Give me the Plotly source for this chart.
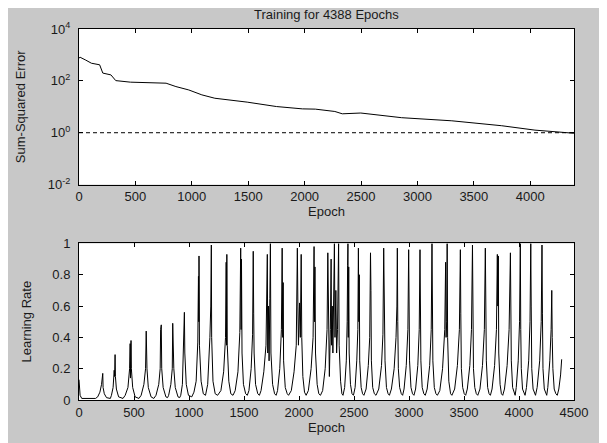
import plotly.graph_objects as go

# ---- Data ----
sse_epoch = [0, 10, 60, 110, 183, 211, 283, 326, 456, 772, 859, 973, 1089, 1204, 1491,
             1750, 1980, 2095, 2268, 2334, 2498, 2860, 3305, 3747, 4042, 4336, 4388]
sse_log10 = [2.88, 2.91, 2.80, 2.68, 2.62, 2.30, 2.23, 2.01, 1.95, 1.91, 1.78, 1.65, 1.46, 1.33, 1.18,
             1.01, 0.92, 0.91, 0.82, 0.73, 0.76, 0.58, 0.46, 0.27, 0.10, 0.00, -0.02]
sse_value = [10 ** v for v in sse_log10]

goal_epoch = [0, 4388]
goal_value = [1.0, 1.0]

lr_epoch = [
    0, 4, 10, 25, 150,
    170, 190, 205, 213, 216, 219, 230, 250, 285,
    295, 310, 320, 324, 328, 331, 340, 360, 400,
    420, 445, 460, 465, 468, 473, 476, 488, 510, 545,
    565, 590, 605, 611, 614, 618, 630, 655, 680,
    700, 725, 738, 742, 745, 748, 752, 765, 790, 805,
    815, 835, 848, 852, 855, 858, 862, 875, 900, 915,
    925, 940, 952, 958, 962, 975, 995, 1025,
    1045, 1065, 1080, 1086, 1089, 1091, 1095, 1110, 1130, 1150,
    1170, 1190, 1198, 1203, 1206, 1218, 1238, 1260,
    1290, 1315, 1332, 1338, 1341, 1344, 1348, 1362, 1380, 1400,
    1420, 1445, 1462, 1470, 1474, 1477, 1482, 1495, 1515, 1530,
    1545, 1565, 1578, 1584, 1588, 1592, 1605, 1625, 1640,
    1655, 1680, 1700, 1712, 1716, 1722, 1728, 1735, 1740, 1745, 1760, 1778, 1792,
    1805, 1825, 1840, 1847, 1852, 1856, 1860, 1875, 1893, 1905,
    1930, 1955, 1975, 1985, 1990, 1995, 2005, 2012, 2020, 2025, 2035, 2050, 2065,
    2085, 2110, 2128, 2137, 2141, 2145, 2150, 2165, 2180, 2195,
    2215, 2238, 2255, 2262, 2268, 2276, 2285, 2292, 2296, 2302, 2308, 2315, 2322, 2327,
    2335, 2342, 2350, 2360, 2365, 2378, 2390, 2400,
    2415, 2430, 2438, 2442, 2445, 2448, 2452, 2456, 2468, 2482, 2495,
    2510, 2525, 2535, 2540, 2544, 2548, 2552, 2565, 2578, 2590,
    2610, 2630, 2643, 2650, 2654, 2658, 2670, 2685, 2700,
    2725, 2750, 2763, 2770, 2774, 2778, 2782, 2795, 2810, 2822,
    2840, 2865, 2882, 2890, 2894, 2898, 2903, 2915, 2930, 2942,
    2955, 2975, 2990, 2997, 3001, 3005, 3018, 3032, 3045,
    3060, 3080, 3093, 3100, 3104, 3108, 3120, 3135, 3148,
    3165, 3188, 3202, 3209, 3213, 3217, 3230, 3245, 3258,
    3280, 3305, 3325, 3333, 3337, 3343, 3347, 3351, 3362, 3378, 3390,
    3415, 3440, 3458, 3467, 3471, 3476, 3488, 3502, 3515,
    3530, 3553, 3568, 3577, 3581, 3586, 3598, 3612, 3625,
    3645, 3668, 3685, 3694, 3698, 3703, 3715, 3728, 3740,
    3755, 3778, 3795, 3803, 3807, 3812, 3816, 3828, 3840, 3852,
    3868, 3892, 3910, 3922, 3926, 3930, 3942, 3955, 3965,
    3975, 3993, 4005, 4012, 4016, 4021, 4032, 4045, 4055,
    4068, 4088, 4100, 4107, 4111, 4116, 4128, 4140, 4150,
    4165, 4188, 4202, 4209, 4213, 4218, 4230, 4243, 4252,
    4262, 4280, 4292, 4298, 4302, 4308, 4320, 4335, 4348,
    4362, 4378, 4388,
]
lr_value = [
    0.13, 0.07, 0.03, 0.01, 0.01,
    0.02, 0.05, 0.10, 0.14, 0.17, 0.08, 0.04, 0.015, 0.01,
    0.03, 0.08, 0.19, 0.15, 0.29, 0.15, 0.07, 0.02, 0.01,
    0.03, 0.08, 0.20, 0.36, 0.14, 0.38, 0.20, 0.08, 0.02, 0.01,
    0.03, 0.10, 0.20, 0.44, 0.37, 0.20, 0.08, 0.02, 0.01,
    0.03, 0.10, 0.20, 0.45, 0.30, 0.48, 0.20, 0.08, 0.02, 0.015,
    0.03, 0.10, 0.20, 0.49, 0.30, 0.49, 0.20, 0.08, 0.02, 0.015,
    0.03, 0.10, 0.35, 0.56, 0.30, 0.10, 0.03, 0.02,
    0.05, 0.12, 0.37, 0.79, 0.50, 0.92, 0.35, 0.12, 0.04, 0.03,
    0.10, 0.40, 0.60, 0.99, 0.40, 0.12, 0.04, 0.03,
    0.06, 0.18, 0.40, 0.88, 0.35, 0.93, 0.35, 0.12, 0.04, 0.03,
    0.06, 0.18, 0.43, 0.97, 0.45, 0.90, 0.30, 0.10, 0.04, 0.03,
    0.06, 0.20, 0.42, 0.95, 0.55, 0.30, 0.10, 0.04, 0.03,
    0.06, 0.18, 0.35, 0.93, 0.30, 0.60, 0.25, 0.65, 1.00, 0.30, 0.10, 0.04, 0.03,
    0.06, 0.20, 0.45, 0.97, 0.40, 0.75, 0.25, 0.08, 0.04, 0.03,
    0.06, 0.18, 0.35, 0.97, 0.60, 0.35, 0.62, 0.40, 0.93, 0.40, 0.15, 0.05, 0.03,
    0.06, 0.20, 0.40, 0.98, 0.50, 0.85, 0.30, 0.10, 0.04, 0.03,
    0.06, 0.20, 0.45, 0.94, 0.40, 0.15, 0.45, 0.90, 0.35, 0.60, 0.30, 0.55, 1.00, 0.40,
    0.70, 0.30, 0.45, 1.00, 0.35, 0.12, 0.04, 0.03,
    0.08, 0.25, 0.50, 0.86, 1.00, 0.40, 0.85, 0.30, 0.10, 0.04, 0.03,
    0.08, 0.25, 0.45, 0.97, 0.50, 0.80, 0.25, 0.08, 0.04, 0.03,
    0.07, 0.22, 0.40, 0.94, 0.70, 0.25, 0.08, 0.04, 0.03,
    0.07, 0.22, 0.42, 0.97, 0.45, 0.75, 0.25, 0.08, 0.04, 0.03,
    0.07, 0.20, 0.40, 0.60, 0.97, 0.50, 0.20, 0.08, 0.04, 0.03,
    0.07, 0.22, 0.45, 0.96, 0.65, 0.25, 0.08, 0.04, 0.03,
    0.07, 0.22, 0.45, 0.96, 0.55, 0.25, 0.08, 0.04, 0.03,
    0.07, 0.22, 0.45, 1.00, 0.60, 0.25, 0.08, 0.04, 0.03,
    0.06, 0.20, 0.45, 0.88, 0.40, 0.50, 1.00, 0.40, 0.12, 0.04, 0.03,
    0.07, 0.22, 0.45, 0.96, 0.55, 0.20, 0.08, 0.04, 0.03,
    0.07, 0.22, 0.45, 0.99, 0.60, 0.20, 0.08, 0.04, 0.03,
    0.07, 0.22, 0.45, 0.97, 0.75, 0.25, 0.08, 0.04, 0.03,
    0.07, 0.22, 0.45, 0.93, 0.60, 0.92, 0.30, 0.10, 0.04, 0.03,
    0.07, 0.22, 0.45, 0.94, 0.55, 0.25, 0.08, 0.04, 0.03,
    0.08, 0.25, 0.50, 1.00, 0.45, 0.20, 0.07, 0.04, 0.03,
    0.08, 0.25, 0.50, 1.00, 0.60, 0.20, 0.07, 0.04, 0.03,
    0.08, 0.25, 0.50, 0.99, 0.55, 0.20, 0.07, 0.04, 0.03,
    0.08, 0.25, 0.45, 0.70, 0.40, 0.20, 0.07, 0.04, 0.03,
    0.07, 0.16, 0.26,
]

top_xticks = [0, 500, 1000, 1500, 2000, 2500, 3000, 3500, 4000]
bot_xticks = [0, 500, 1000, 1500, 2000, 2500, 3000, 3500, 4000, 4500]
top_yticks = [0.01, 1, 100, 10000]
top_ytext = ["10<sup>-2</sup>", "10<sup>0</sup>", "10<sup>2</sup>", "10<sup>4</sup>"]
bot_yticks = [0, 0.2, 0.4, 0.6, 0.8, 1]
bot_ytext = ["0", "0.2", "0.4", "0.6", "0.8", "1"]

title_text = "Training for 4388 Epochs"

# ---- Figure ----
FONT = "Liberation Sans, Arial, sans-serif"
TXT = "#1a1a1a"
GRAY = "#c8c8c8"

fig = go.Figure()
fig.add_trace(go.Scatter(x=sse_epoch, y=sse_value, mode="lines",
                         line=dict(color="black", width=1), xaxis="x", yaxis="y",
                         showlegend=False))
fig.add_trace(go.Scatter(x=goal_epoch, y=goal_value, mode="lines",
                         line=dict(color="black", width=1, dash="4px,3px"), xaxis="x", yaxis="y",
                         showlegend=False))
fig.add_trace(go.Scatter(x=lr_epoch, y=lr_value, mode="lines",
                         line=dict(color="black", width=1), xaxis="x2", yaxis="y2",
                         showlegend=False))

axis_common = dict(showline=True, linecolor="black", linewidth=1, mirror="ticks",
                   ticks="inside", ticklen=4, tickcolor="black", showgrid=False,
                   zeroline=False, tickfont=dict(family=FONT, size=13, color=TXT))

fig.update_layout(
    width=592, height=435,
    margin=dict(l=62, r=20, t=21, b=42),
    paper_bgcolor=GRAY, plot_bgcolor="white",
    font=dict(family=FONT, size=13, color=TXT),
    xaxis=dict(domain=[0, 1], anchor="y", range=[0, 4388], tickvals=top_xticks,
               title=dict(text="Epoch", standoff=2, font=dict(size=13)), **axis_common),
    yaxis=dict(domain=[0.5806, 1], anchor="x", type="log", range=[-2, 4],
               tickvals=top_yticks, ticktext=top_ytext, ticklabelstandoff=5,
               title=dict(text="Sum-Squared Error", standoff=19, font=dict(size=13)), **axis_common),
    xaxis2=dict(domain=[0, 1], anchor="y2", range=[0, 4500], tickvals=bot_xticks,
                title=dict(text="Epoch", standoff=2, font=dict(size=13)), **axis_common),
    yaxis2=dict(domain=[0, 0.422], anchor="x2", range=[0, 1],
                tickvals=bot_yticks, ticktext=bot_ytext, ticklabelstandoff=5,
                title=dict(text="Learning Rate", standoff=17, font=dict(size=13)), **axis_common),
    annotations=[dict(text=title_text, xref="paper", yref="paper", x=0.5, y=1.0403,
                      xanchor="center", yanchor="middle", showarrow=False,
                      font=dict(family=FONT, size=13, color=TXT))],
)

fig.write_html("out.html")
